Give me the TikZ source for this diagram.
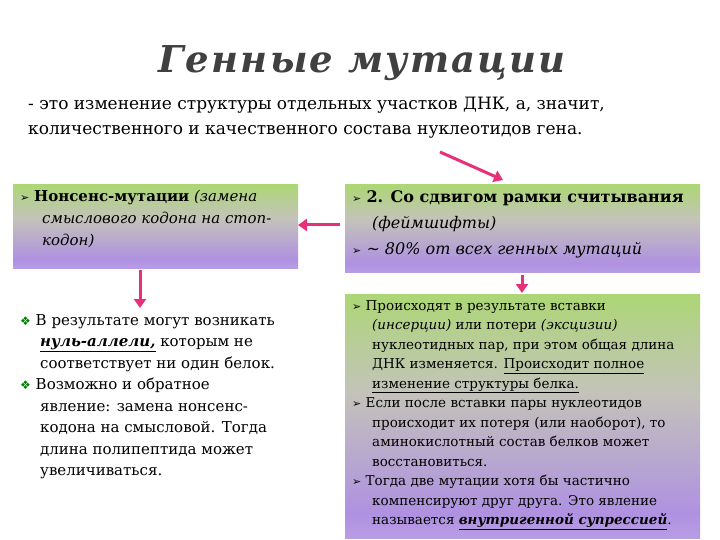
\documentclass[tikz,border=0pt]{standalone}
\usepackage{fontspec}
\setmainfont{DejaVu Serif}
\newfontfamily\titlefont[LetterSpace=6]{DejaVu Serif}
\newfontfamily\symfont{DejaVu Sans}
\usetikzlibrary{arrows.meta}
\definecolor{gtop}{RGB}{135,210,40}
\definecolor{gmid}{RGB}{195,195,185}
\definecolor{pmid}{RGB}{175,145,225}
\pgfdeclareverticalshading{boxshade}{100bp}{color(0bp)=(white); color(12bp)=(pmid!60!white); color(30bp)=(pmid); color(55bp)=(gmid); color(82bp)=(gtop!75!white); color(100bp)=(gtop)}
\definecolor{pinkarrow}{RGB}{232,48,122}
\tikzset{
  gbox/.style={draw=none,shading=boxshade},
  arr/.style={draw=pinkarrow,line width=3pt,-{Triangle[length=9pt,width=12pt]}},
  txt/.style={anchor=north west,align=left,inner sep=0pt,font=\fontsize{13.5}{19.5}\selectfont},
}
\newcommand{\bul}{{\symfont\fontsize{11}{11}\selectfont ➢}\ }
\newcommand{\dia}{{\symfont\color{green!50!black}\fontsize{12}{12}\selectfont ❖}\ }
\begin{document}
\begin{tikzpicture}[x=1pt,y=-1pt]
\useasboundingbox (0,0) rectangle (720,540);
\node (title) at (362,63) {\titlefont\bfseries\itshape\fontsize{37}{40}\selectfont\color{black!75}Генные мутации};
\node (sub) [anchor=north west,align=left,inner sep=0pt,font=\fontsize{17}{25}\selectfont] at (28,97) {- это изменение структуры отдельных участков ДНК, а, значит,\\количественного и качественного состава нуклеотидов гена.};
\shade[gbox] (13,185) rectangle (298,268);
\shade[gbox] (345,185) rectangle (700,272);
\shade[gbox] (345,294) rectangle (700,538);
\node (b1) [txt,font=\fontsize{15}{22}\selectfont] at (20,190) {\bul\textbf{Нонсенс-мутации} \textit{(замена}\\\hspace*{22pt}\textit{смыслового кодона на стоп-}\\\hspace*{22pt}\textit{кодон)}};
\node (b2) [txt,font=\fontsize{16}{26}\selectfont] at (352,190) {\bul\textbf{2. Со сдвигом рамки считывания}\\\hspace*{20pt}\textit{(феймшифты)}\\\bul\textit{\textasciitilde{} 80\% от всех генных мутаций}};
\node (b3) [txt] at (352,300) {\bul Происходят в результате вставки\\\hspace*{20pt}\textit{(инсерции)} или потери \textit{(эксцизии)}\\\hspace*{20pt}нуклеотидных пар, при этом общая длина\\\hspace*{20pt}ДНК изменяется. \underline{Происходит полное}\\\hspace*{20pt}\underline{изменение структуры белка.}\\\bul Если после вставки пары нуклеотидов\\\hspace*{20pt}происходит их потеря (или наоборот), то\\\hspace*{20pt}аминокислотный состав белков может\\\hspace*{20pt}восстановиться.\\\bul Тогда две мутации хотя бы частично\\\hspace*{20pt}компенсируют друг друга. Это явление\\\hspace*{20pt}называется \textbf{\textit{\underline{внутригенной супрессией}}}.};
\node (l) [txt,font=\fontsize{15}{21.5}\selectfont] at (20,314) {\dia В результате могут возникать\\\hspace*{20pt}\textbf{\textit{\underline{нуль-аллели,}}} которым не\\\hspace*{20pt}соответствует ни один белок.\\\dia Возможно и обратное\\\hspace*{20pt}явление: замена нонсенс-\\\hspace*{20pt}кодона на смысловой. Тогда\\\hspace*{20pt}длина полипептида может\\\hspace*{20pt}увеличиваться.};
\coordinate (a1s) at (440,152); \coordinate (a1e) at (503,180);
\coordinate (a2s) at (340,225); \coordinate (a2e) at (298,225);
\coordinate (a3s) at (140,270); \coordinate (a3e) at (140,308);
\coordinate (a4s) at (522,275); \coordinate (a4e) at (522,293);
\draw[arr] (a1s) -- (a1e);
\draw[arr] (a2s) -- (a2e);
\draw[arr] (a3s) -- (a3e);
\draw[arr] (a4s) -- (a4e);
\end{tikzpicture}
\end{document}
